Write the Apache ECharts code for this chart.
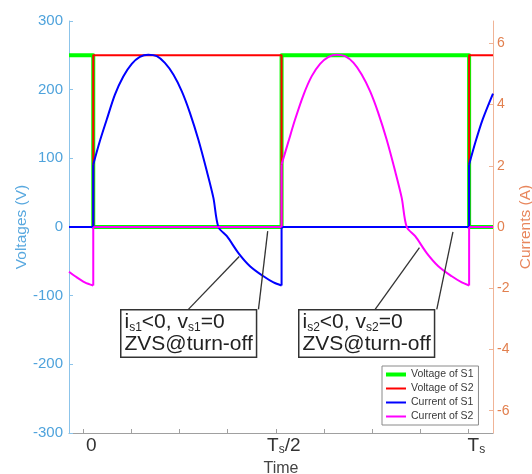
<!DOCTYPE html>
<html><head><meta charset="utf-8">
<script src="https://cdn.jsdelivr.net/npm/echarts@6/dist/echarts.min.js"></script>
<style>html,body{margin:0;padding:0;background:#fff}#chart{width:532px;height:474px}</style>
</head><body><div id="chart"></div>
<script>
// ---- data (time in units of Ts) ----
const seriesNames = ['Voltage of S1', 'Voltage of S2', 'Current of S1', 'Current of S2'];

const timeVoltage = [-0.037, 0.026, 0.026, 0.515, 0.515, 1.002, 1.002, 1.064];
const voltageS1   = [250, 250, 0, 0, 250, 250, 0, 0];
const voltageS2   = [0, 0, 250, 250, 0, 0, 250, 250];

const timeCurrentS1 = [-0.037, 0.026, 0.026, 0.043, 0.061, 0.082, 0.104, 0.126, 0.147, 0.169, 0.191, 0.212, 0.234, 0.256, 0.277, 0.299, 0.321, 0.338, 0.351, 0.373, 0.403, 0.433, 0.468, 0.494, 0.515, 0.515, 1.002, 1.002, 1.019, 1.037, 1.064];
const currentS1     = [0, 0, 2.04, 2.80, 3.51, 4.32, 4.92, 5.33, 5.56, 5.63, 5.58, 5.36, 4.98, 4.43, 3.73, 2.85, 1.82, 0.95, 0, -0.30, -0.85, -1.28, -1.61, -1.81, -1.91, 0, 0, 2.04, 2.80, 3.51, 4.36];

const timeCurrentS2 = [-0.037, -0.021, 0.004, 0.026, 0.026, 0.515, 0.515, 0.533, 0.550, 0.572, 0.593, 0.615, 0.637, 0.658, 0.680, 0.702, 0.723, 0.745, 0.766, 0.788, 0.810, 0.827, 0.840, 0.862, 0.892, 0.922, 0.957, 0.983, 1.002, 1.002, 1.064];
const currentS2     = [-1.46, -1.61, -1.81, -1.91, 0, 0, 2.04, 2.80, 3.51, 4.32, 4.92, 5.33, 5.56, 5.63, 5.58, 5.36, 4.98, 4.43, 3.73, 2.85, 1.82, 0.95, 0, -0.30, -0.85, -1.28, -1.61, -1.81, -1.91, 0, 0];

const timeTickValues  = [0, 0.125, 0.25, 0.375, 0.5, 0.625, 0.75, 0.875, 1];
const timeLabelValues = [0, 0.5, 1];
const timeLabelTexts  = ['{m|0}', '{m|T}{s|s}{m|/2}', '{m|T}{s|s}'];
const currentTickValues = [-6, -4, -2, 0, 2, 4, 6];

const axisTitles = { time: 'Time', voltage: 'Voltages (V)', current: 'Currents (A)' };

// annotation leader lines: [time, voltage] start -> end
const leaderStarts = [[0.273, -120], [0.455, -120], [0.758, -120], [0.918, -120]];
const leaderEnds   = [[0.405, -43], [0.479, -6], [0.873, -30], [0.960, -7]];
const annotationTexts = [
  '{m|i}{s|s1}{m|<0, v}{s|s1}{m|=0}\n{m|ZVS@turn-off}',
  '{m|i}{s|s2}{m|<0, v}{s|s2}{m|=0}\n{m|ZVS@turn-off}'
];

// ---- build ----
const FONT = '"Liberation Sans", Arial, Helvetica, sans-serif';
function pairs(ts, vs) { return ts.map((t, i) => [t, vs[i]]); }
// split a trace into smooth pieces (broken at vertical jumps) and straight jump segments
function splitTrace(ts, vs) {
  const smoothPart = [], jumps = [];
  for (let i = 0; i < ts.length; i++) {
    if (i > 0 && ts[i] === ts[i - 1]) {
      smoothPart.push([ts[i], '-']);
      jumps.push([ts[i - 1], vs[i - 1]], [ts[i], vs[i]], [ts[i], '-']);
    }
    smoothPart.push([ts[i], vs[i]]);
  }
  return { smoothPart, jumps };
}
const c1 = splitTrace(timeCurrentS1, currentS1);
const c2 = splitTrace(timeCurrentS2, currentS2);

const colors = ['#00ff00', '#ff0000', '#0000ff', '#ff00ff'];
const widths = [4, 2, 2, 2];

function lineSeries(name, idx, data, yAxisIndex, smooth) {
  return {
    name, type: 'line', data, yAxisIndex, smooth: smooth || false, symbol: 'none', showSymbol: false,
    connectNulls: false, animation: false, silent: true,
    lineStyle: { color: colors[idx], width: widths[idx], cap: 'butt', join: 'round' },
    itemStyle: { color: colors[idx], opacity: 0 }
  };
}

const chart = echarts.init(document.getElementById('chart'), null, { renderer: 'canvas' });
const option = {
  animation: false,
  backgroundColor: '#ffffff',
  textStyle: { fontFamily: FONT },
  grid: { left: 69, right: 39, top: 21, bottom: 41, containLabel: false, outerBoundsMode: 'none' },
  legend: {
    data: seriesNames.map((n, i) => ({ name: n, itemStyle: { opacity: 0 }, lineStyle: { width: widths[i], color: colors[i] } })),
    orient: 'vertical', left: 382, top: 366,
    itemWidth: 20, itemHeight: 11, itemGap: 3, padding: [3, 5, 3, 2],
    borderColor: '#8a8a8a', borderWidth: 1, backgroundColor: '#ffffff',
    itemStyle: { opacity: 0 },
    textStyle: { fontSize: 10.5, color: '#3a3a3a', fontFamily: FONT },
    selectedMode: false
  },
  xAxis: {
    type: 'value', min: -0.037, max: 1.064,
    name: axisTitles.time, nameLocation: 'middle', nameGap: 28,
    nameTextStyle: { fontSize: 16, color: '#444', fontFamily: FONT },
    axisLine: { show: true, onZero: false, lineStyle: { color: '#a0a0a0', width: 1 } },
    axisTick: { show: true, inside: true, length: 4, customValues: timeTickValues, lineStyle: { color: '#a0a0a0' } },
    axisLabel: {
      customValues: timeLabelValues, margin: 3, padding: [0, 0, 0, 16],
      formatter: function (v) { const k = timeLabelValues.findIndex(x => Math.abs(x - v) < 1e-9); return k >= 0 ? timeLabelTexts[k] : ''; },
      rich: {
        m: { fontSize: 19, color: '#333', fontFamily: FONT, lineHeight: 20 },
        s: { fontSize: 12, color: '#333', fontFamily: FONT, lineHeight: 12, verticalAlign: 'bottom' }
      }
    },
    splitLine: { show: false }
  },
  yAxis: [
    {
      type: 'value', position: 'left', min: -300, max: 300, interval: 100,
      axisLine: { show: true, onZero: false, lineStyle: { color: '#8cc4ea', width: 1 } },
      axisTick: { show: true, inside: true, length: 4, lineStyle: { color: '#8cc4ea' } },
      axisLabel: { color: '#4fa3dc', fontSize: 15, margin: 6, fontFamily: FONT },
      splitLine: { show: false }
    },
    {
      type: 'value', position: 'right', min: -6.73, max: 6.73,
      axisLine: { show: true, onZero: false, lineStyle: { color: '#f0b497', width: 1 } },
      axisTick: { show: true, inside: true, length: 4, customValues: currentTickValues, lineStyle: { color: '#f0b497' } },
      axisLabel: { customValues: currentTickValues, color: '#e2804f', fontSize: 14, margin: 4, fontFamily: FONT },
      splitLine: { show: false }
    }
  ],
  series: [
    lineSeries(seriesNames[0], 0, pairs(timeVoltage, voltageS1), 0),
    lineSeries(seriesNames[1], 1, pairs(timeVoltage, voltageS2), 0),
    lineSeries(seriesNames[2], 2, c1.smoothPart, 1, 0.3),
    lineSeries(seriesNames[2], 2, c1.jumps, 1),
    lineSeries(seriesNames[3], 3, c2.smoothPart, 1, 0.3),
    lineSeries(seriesNames[3], 3, c2.jumps, 1),
    {
      type: 'lines', name: 'leaders', coordinateSystem: 'cartesian2d', xAxisIndex: 0, yAxisIndex: 0,
      silent: true, animation: false, z: 5,
      lineStyle: { color: '#333', width: 1.3, opacity: 1 },
      data: leaderStarts.map((s, i) => ({ coords: [s, leaderEnds[i]] }))
    }
  ],
  graphic: annotationTexts.map((txt, i) => ({
    type: 'text', left: i === 0 ? 120 : 298, top: 309, z: 100,
    style: {
      text: txt, fill: '#222', fontFamily: FONT, fontSize: 21,
      backgroundColor: '#ffffff', borderColor: '#333', borderWidth: 1.5, padding: [1, 3, 1, 3],
      rich: {
        m: { fontSize: 21, fontFamily: FONT, fill: '#222', lineHeight: 22 },
        s: { fontSize: 12, fontFamily: FONT, fill: '#222', lineHeight: 12, verticalAlign: 'bottom' }
      }
    }
  })).concat([
    { type: 'text', x: 22, y: 227, rotation: Math.PI / 2, z: 50,
      style: { text: axisTitles.voltage, fill: '#58a8df', fontFamily: FONT, fontSize: 15.5, align: 'center', verticalAlign: 'middle' } },
    { type: 'text', x: 526, y: 227, rotation: Math.PI / 2, z: 50,
      style: { text: axisTitles.current, fill: '#e8865c', fontFamily: FONT, fontSize: 15.5, align: 'center', verticalAlign: 'middle' } }
  ])
};
chart.setOption(option);
</script></body></html>
